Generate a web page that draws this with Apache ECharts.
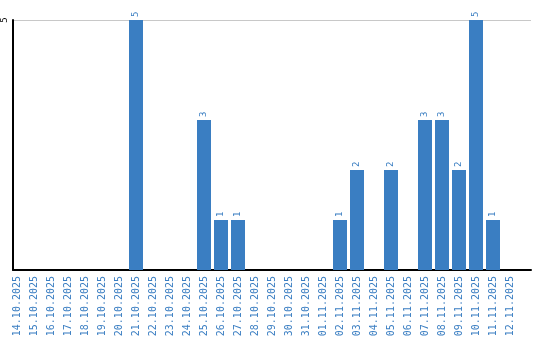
<!DOCTYPE html>
<html><head><meta charset="utf-8">
<script src="https://cdn.jsdelivr.net/npm/echarts@6/dist/echarts.min.js"></script>
<style>html,body{margin:0;padding:0;background:#fff}#c{width:540px;height:340px}</style>
</head><body><div id="c"></div>
<script>
const categories = ["14.10.2025","15.10.2025","16.10.2025","17.10.2025","18.10.2025","19.10.2025","20.10.2025","21.10.2025","22.10.2025","23.10.2025","24.10.2025","25.10.2025","26.10.2025","27.10.2025","28.10.2025","29.10.2025","30.10.2025","31.10.2025","01.11.2025","02.11.2025","03.11.2025","04.11.2025","05.11.2025","06.11.2025","07.11.2025","08.11.2025","09.11.2025","10.11.2025","11.11.2025","12.11.2025"];
const values = [null,null,null,null,null,null,null,5,null,null,null,3,1,1,null,null,null,null,null,1,2,null,2,null,3,3,2,5,1,null];
const yTicks = [5];

const blue = '#3a7ec2';
const font = '"DejaVu Sans Mono", monospace';
const chart = echarts.init(document.getElementById('c'));
chart.setOption({
  animation: false,
  grid: [
    {left: 8.5, width: 510, top: 20, bottom: 70},
    {left: 10, right: 9, top: 20, bottom: 70}
  ],
  xAxis: [
    {type: 'category', gridIndex: 0, data: categories,
     axisLine: {show: false}, axisTick: {show: false},
     axisLabel: {rotate: 90, interval: 0, color: blue, fontFamily: font, fontSize: 10, margin: 6}},
    {type: 'value', gridIndex: 1, min: 0, max: 1,
     axisLine: {show: true, lineStyle: {color: '#000', width: 2}}, axisTick: {show: false},
     axisLabel: {show: false}, splitLine: {show: false}}
  ],
  yAxis: [
    {type: 'value', gridIndex: 0, min: 0, max: 5, show: false, splitLine: {show: false}},
    {type: 'value', gridIndex: 1, min: 0, max: yTicks[yTicks.length - 1], interval: 5,
     axisLine: {show: true, lineStyle: {color: '#000', width: 2}}, axisTick: {show: false},
     axisLabel: {rotate: 90, color: '#000', fontFamily: font, fontSize: 9, margin: 4,
       formatter: v => yTicks.includes(v) ? String(v) : ''},
     splitLine: {show: true, lineStyle: {color: '#c8c8c8', width: 1}}}
  ],
  series: [{
    type: 'bar', xAxisIndex: 0, yAxisIndex: 0, data: values, barWidth: 14,
    itemStyle: {color: blue},
    label: {show: true, position: 'top', rotate: 90, align: 'left', verticalAlign: 'middle',
      distance: 3, color: blue, fontFamily: font, fontSize: 9}
  }]
});
</script></body></html>
